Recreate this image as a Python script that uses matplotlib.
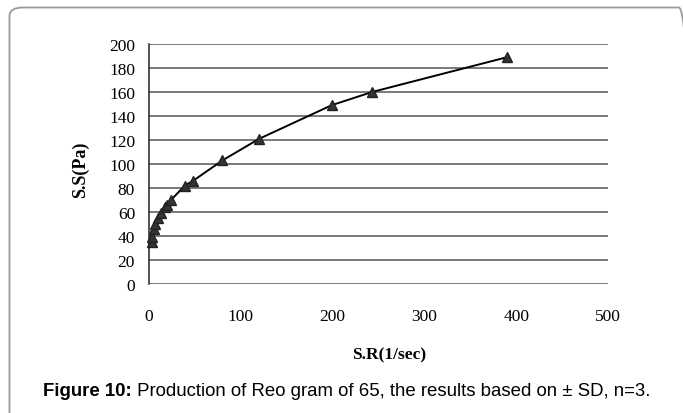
import matplotlib.pyplot as plt
from matplotlib.patches import FancyBboxPatch

# shear rate (1/sec) vs shear stress (Pa)
SHEAR_RATE = [3, 3, 5, 7, 10, 13, 17, 20, 24, 39, 48, 80, 120, 199, 243, 390]
SHEAR_STRESS = [35, 39, 46, 50, 55, 59, 64, 66, 70, 82, 86, 103, 121, 149, 160, 189]

X_TICKS = [0, 100, 200, 300, 400, 500]
Y_TICKS = list(range(0, 201, 20))

CAPTION_BOLD = "Figure 10:"
CAPTION_REST = " Production of Reo gram of 65, the results based on \u00b1 SD, n=3."

SERIF = "Liberation Serif"
SANS = "Liberation Sans"
W, H = 683, 414


def main():
    fig = plt.figure(figsize=(W / 100, H / 100), dpi=100)

    # rounded frame around the figure (runs off the right and bottom edges)
    frame = FancyBboxPatch((9.5 / W, -0.2), 1.0, 1.2 - 8.5 / H,
                           boxstyle="round,pad=0,rounding_size=0.02",
                           transform=fig.transFigure, fill=False,
                           edgecolor="#9a9a9a", linewidth=1.3)
    fig.patches.append(frame)

    ax = fig.add_axes([149 / W, 1 - 285 / H, (608 - 149) / W, (285 - 45) / H])
    ax.set_xlim(0, 500)
    ax.set_ylim(0, 200)
    ax.set_xticks(X_TICKS)
    ax.set_yticks(Y_TICKS)
    for y in Y_TICKS:
        ax.axhline(y, color="#555555", linewidth=1.1, zorder=1)

    ax.plot(SHEAR_RATE, SHEAR_STRESS, color="black", linewidth=1.4,
            marker="^", markersize=6.5, markerfacecolor="#333333",
            markeredgecolor="#222222", zorder=3, clip_on=False)

    for side in ["top", "right", "bottom"]:
        ax.spines[side].set_visible(False)
    ax.spines["left"].set_color("#222222")
    ax.spines["left"].set_linewidth(1.1)
    ax.tick_params(length=0, labelsize=12.5)
    ax.tick_params(axis="x", pad=17)
    ax.tick_params(axis="y", pad=10)
    for lab in ax.get_xticklabels() + ax.get_yticklabels():
        lab.set_family(SERIF)

    fig.text(389 / W, 1 - 355 / H, "S.R(1/sec)", family=SERIF, fontsize=12.5,
             fontweight="bold", ha="center", va="center")
    fig.text(80 / W, 1 - 170 / H, "S.S(Pa)", family=SERIF, fontsize=13,
             fontweight="bold", ha="center", va="center", rotation=90)

    # caption: bold "Figure 10:" followed by regular text
    t1 = fig.text(43 / W, 1 - 392 / H, CAPTION_BOLD, family=SANS,
                  fontsize=13.4, fontweight="bold", va="center")
    fig.canvas.draw()
    bb = t1.get_window_extent()
    fig.text(bb.x1 / fig.bbox.width, 1 - 392 / H, CAPTION_REST, family=SANS,
             fontsize=13.4, va="center")

    fig.savefig("out.png", dpi=100)


if __name__ == '__main__':
    main()
